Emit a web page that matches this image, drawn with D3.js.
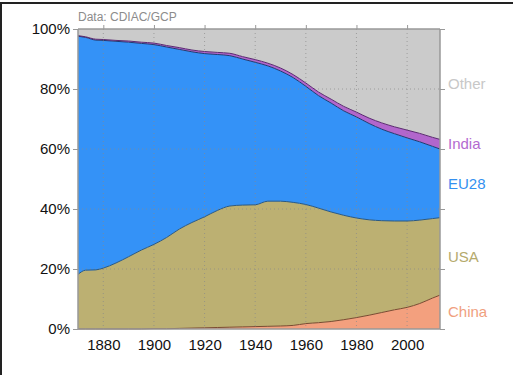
<!DOCTYPE html>
<html>
<head>
<meta charset="utf-8">
<script src="https://cdn.jsdelivr.net/npm/d3@7"></script>
<style>
body{margin:0;background:#fff;}
svg{display:block;font-family:"Liberation Sans",Arial,sans-serif;}
</style>
</head>
<body>
<svg width="513" height="375"></svg>
<script>
// share of cumulative CO2 emissions, %
var years = [1870,1873,1877,1880,1885,1890,1895,1900,1905,1910,1915,1920,1925,1930,1935,1940,1945,1950,1955,1960,1965,1970,1975,1980,1985,1990,1995,2000,2005,2010,2013];
var china = [0,0,0,0,0,0,0,0.1,0.1,0.2,0.3,0.4,0.5,0.6,0.7,0.8,0.9,1.0,1.2,1.8,2.1,2.5,3.1,3.8,4.6,5.5,6.4,7.2,8.5,10.3,11.3];
var usa   = [18.2,19.6,19.7,20.3,22.0,24.1,26.3,28.1,30.4,33.1,35.2,37.0,39.0,40.4,40.6,40.6,41.7,41.6,41.0,39.7,38.2,36.5,34.8,33.2,31.8,30.6,29.6,28.8,27.8,26.5,25.8];
var eu28  = [79.4,77.6,76.6,75.9,73.9,71.5,68.9,66.6,63.5,59.9,56.9,54.4,52.0,50.1,48.7,47.5,45.1,43.4,41.6,39.4,37.5,36.3,34.8,33.7,32.1,30.5,29.1,27.7,26.1,24.1,22.9];
var india = [0.2,0.2,0.3,0.3,0.3,0.4,0.4,0.5,0.5,0.6,0.6,0.7,0.7,0.8,0.8,0.9,0.9,1.0,1.0,1.1,1.2,1.3,1.5,1.6,1.8,2.1,2.3,2.6,2.8,3.0,3.2];
var names = ['China','USA','EU28','India','Other'];
var fills = ['#f3a07e','#bcb072','#3492f7','#b266cc','#cbcbcb'];
var strokes = ['#7a4a30','#2b587f','#1d3a70','#5a2a70','none'];
var labelColors = ['#f0a07e','#b5aa6c','#3390f0','#b36ad0','#c8c8c8'];
var yTicks = [0,20,40,60,80,100];
var xTicks = [1880,1900,1920,1940,1960,1980,2000];

var data = years.map(function(y,i){
	var other = 100 - china[i] - usa[i] - eu28[i] - india[i];
	return {year:y, China:china[i], USA:usa[i], EU28:eu28[i], India:india[i], Other:other};
});

var svg = d3.select('svg');
var margin = {left:78,top:29,right:73,bottom:46};
var width = 513 - margin.left - margin.right;
var height = 375 - margin.top - margin.bottom;

// frame from the original screenshot
svg.append('line').attr('x1',0).attr('x2',513).attr('y1',3).attr('y2',3).attr('stroke','#222').attr('stroke-width',2);
svg.append('line').attr('x1',1).attr('x2',1).attr('y1',3).attr('y2',375).attr('stroke','#222').attr('stroke-width',2);

var g = svg.append('g').attr('transform','translate('+margin.left+','+margin.top+')');

var x = d3.scaleLinear().domain([1870,2013]).range([0,width]);
var y = d3.scaleLinear().domain([0,100]).range([height,0]);

var series = d3.stack().keys(names)(data);

var area = d3.area().curve(d3.curveMonotoneX)
	.x(function(d){return x(d.data.year);})
	.y0(function(d){return y(d[0]);})
	.y1(function(d){return y(d[1]);});
var edgeLine = d3.line().curve(d3.curveMonotoneX)
	.x(function(d){return x(d.data.year);})
	.y(function(d){return y(d[1]);});

g.selectAll('path.area').data(series).enter().append('path')
	.attr('class','area')
	.attr('d',area)
	.attr('fill',function(d,i){return fills[i];});

// grid
g.append('g').selectAll('line').data(xTicks).enter().append('line')
	.attr('x1',d=>x(d)).attr('x2',d=>x(d)).attr('y1',0).attr('y2',height)
	.attr('stroke','#8a8a8a').attr('stroke-width',1).attr('stroke-dasharray','1,3').attr('opacity',0.7);
g.append('g').selectAll('line').data(yTicks.slice(1,-1)).enter().append('line')
	.attr('x1',0).attr('x2',width).attr('y1',d=>y(d)).attr('y2',d=>y(d))
	.attr('stroke','#8a8a8a').attr('stroke-width',1).attr('stroke-dasharray','1,3').attr('opacity',0.7);

g.selectAll('path.edge').data(series.slice(0,4)).enter().append('path')
	.attr('class','edge')
	.attr('d',edgeLine)
	.attr('fill','none')
	.attr('stroke',function(d,i){return strokes[i];})
	.attr('stroke-width',1);

// axes
var fmt = function(d){return d+'%';};
var axLeft = g.append('g').call(d3.axisLeft(y).tickValues(yTicks).tickFormat(fmt).tickSize(5).tickPadding(3));
var axRight = g.append('g').attr('transform','translate('+width+',0)').call(d3.axisRight(y).tickValues(yTicks).tickFormat('').tickSize(5));
var axTop = g.append('g').call(d3.axisTop(x).tickValues(xTicks).tickFormat('').tickSize(4));
var axBottom = g.append('g').attr('transform','translate(0,'+height+')').call(d3.axisBottom(x).tickValues(xTicks).tickFormat(d3.format('d')).tickSize(0).tickPadding(10));
[axLeft,axRight,axTop,axBottom].forEach(function(a){
	a.selectAll('.domain').attr('stroke','#999').attr('stroke-width',1.5);
	a.selectAll('.tick line').attr('stroke','#999');
	a.selectAll('text').attr('fill','#111').style('font-size','15px').style('font-family','"Liberation Sans",Arial,sans-serif');
});
axLeft.select('.domain').attr('d','M0,0V'+height);
axRight.select('.domain').attr('d','M0,0V'+height);
axTop.select('.domain').attr('d','M0,0H'+width);
axBottom.select('.domain').attr('d','M0,0H'+width);

// labels at the middle of each band in the last year
var last = series.map(function(s){return s[s.length-1];});
g.selectAll('text.lab').data(last).enter().append('text')
	.attr('class','lab')
	.attr('x',width+8)
	.attr('y',function(d){return y((d[0]+d[1])/2);})
	.attr('dy','0.35em')
	.attr('fill',function(d,i){return labelColors[i];})
	.style('font-size','15px')
	.text(function(d,i){return names[i];});

svg.append('text').attr('x',margin.left).attr('y',21)
	.attr('fill','#8c8c8c').style('font-size','12px')
	.text('Data: CDIAC/GCP');
</script>
</body>
</html>
